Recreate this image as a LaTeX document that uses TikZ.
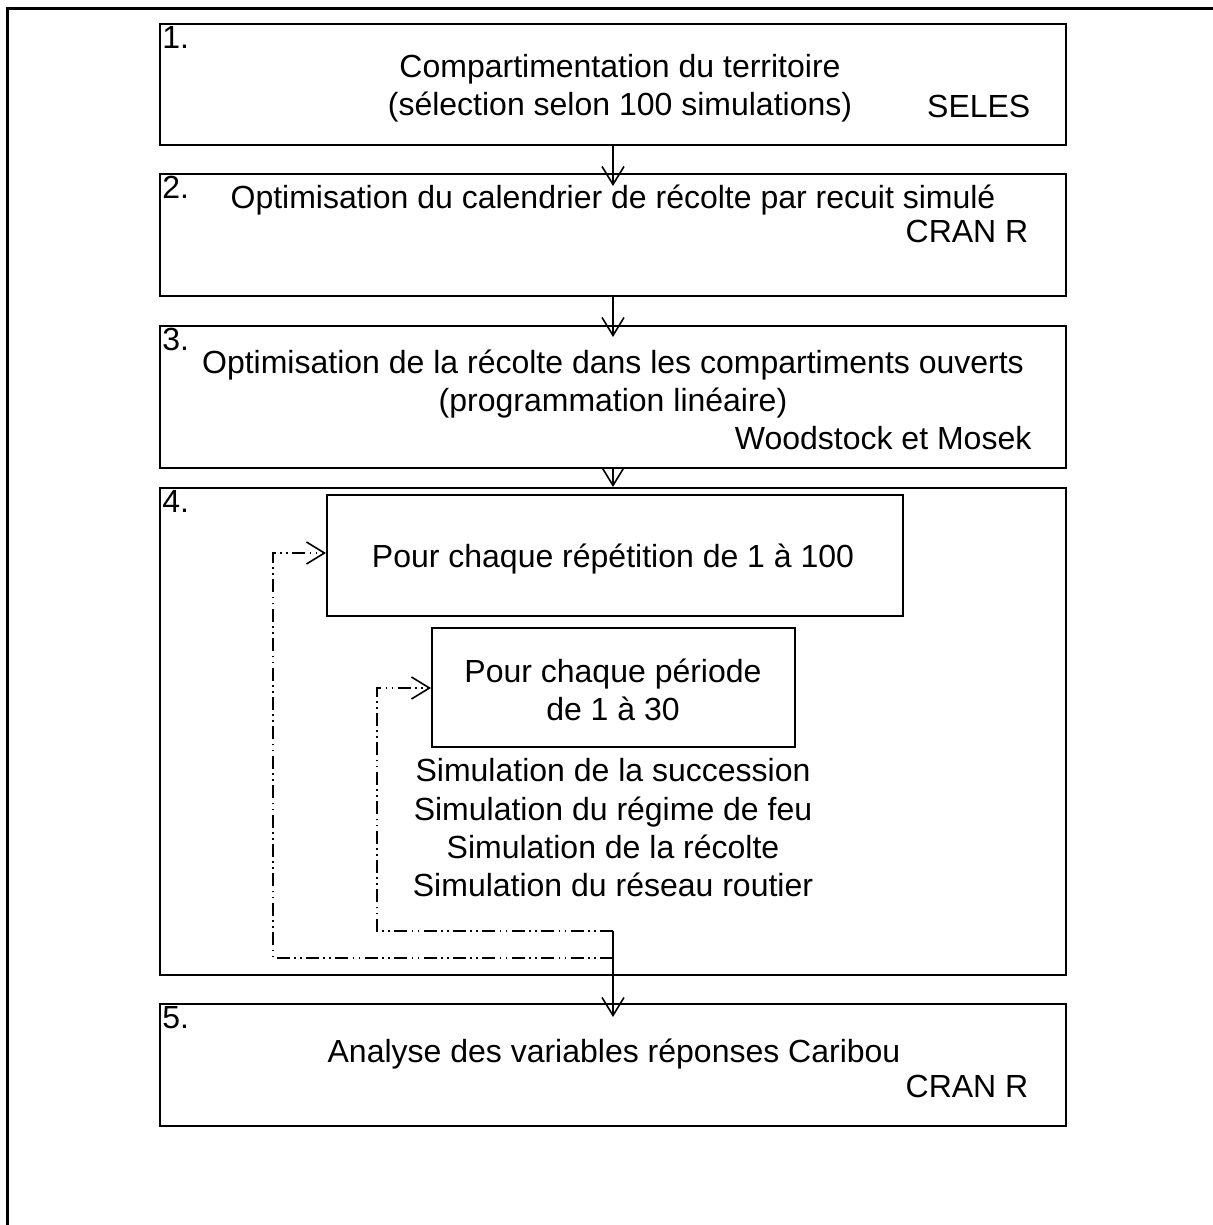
\documentclass[tikz,border=0pt]{standalone}
\usepackage{fontspec}
\setmainfont{Liberation Sans}
\usetikzlibrary{calc,positioning,arrows.meta}

\begin{document}
\begin{tikzpicture}[x=0.5pt,y=-0.5pt,inner sep=0.4mm,
  box/.style={draw,line width=1pt,inner sep=0pt},
  txt/.style={font=\fontsize{16}{19}\selectfont,align=center},
  num/.style={font=\fontsize{16}{19}\selectfont,anchor=north west,inner sep=1.5pt},
  flow/.style={-{Straight Barb[length=9pt,width=11pt]},line width=0.8pt},
  loopline/.style={flow,dash pattern=on 6.5pt off 2.2pt on 0.8pt off 2.2pt on 0.8pt off 2.2pt}]
\useasboundingbox (0,0) rectangle (1212,1225);
\draw[line width=1.5pt] (7.5,1240) |- (1230,8.5);

\node[box,minimum width=453pt,minimum height=60.5pt] (B1) at (613,84.5) {};
\node[box,minimum width=453pt,minimum height=61pt] (B2) at (613,235) {};
\node[box,minimum width=453pt,minimum height=71pt] (B3) at (613,397) {};
\node[box,minimum width=453pt,minimum height=243.5pt] (B4) at (613,731.5) {};
\node[box,minimum width=453pt,minimum height=61pt] (B5) at (613,1065) {};
\node[box,minimum width=288pt,minimum height=60.5pt] (Ba) at (615,555.5) {};
\node[box,minimum width=181.5pt,minimum height=59.5pt] (Bb) at (613.5,687.5) {};

\node[num] (N1) at (B1.north west) {1.};
\node[num] (N2) at (B2.north west) {2.};
\node[num] (N3) at (B3.north west) {3.};
\node[num] (N4) at (B4.north west) {4.};
\node[num] (N5) at (B5.north west) {5.};

\node[txt] (T1) at (620,88) {Compartimentation du territoire\\(sélection selon 100 simulations)};
\node[txt,anchor=east] (S1) at (1033,106) {SELES};
\node[txt] (T2) at (613,200) {Optimisation du calendrier de récolte par recuit simulé};
\node[txt,anchor=east] (S2) at (1031,231) {CRAN R};
\node[txt] (T3) at (613,384) {Optimisation de la récolte dans les compartiments ouverts\\(programmation linéaire)};
\node[txt,anchor=east] (S3) at (1034,438) {Woodstock et Mosek};
\node[txt] (Ta) at (613,559) {Pour chaque répétition de 1 à 100};
\node[txt] (Tb) at (613,690) {Pour chaque période\\de 1 à 30};
\node[txt,font=\fontsize{16}{19.15}\selectfont] (Tsim) at (613,828) {Simulation de la succession\\Simulation du régime de feu\\Simulation de la récolte\\Simulation du réseau routier};
\node[txt] (T5) at (614,1054) {Analyse des variables réponses Caribou};
\node[txt,anchor=east] (S5) at (1031,1086) {CRAN R};

% boucles
\coordinate (ri) at (613,931);
\coordinate (ro) at (613,958);
\coordinate (ci) at (377,688);
\coordinate (co) at (273,553);
\draw[loopline] (ri) -| (ci) -- (ci -| Bb.west);
\draw[loopline] (ro) -| (co) -- (co -| Ba.west);

\draw[flow,shorten >=-6.5pt] (B1.south) -- (B2.north);
\draw[flow,shorten >=-6pt] (B2.south) -- (B3.north);
\draw[flow] (B3.south) -- (B4.north);
\draw[flow,shorten >=-7pt] (ri) -- (B5.north);

\end{tikzpicture}
\end{document}
